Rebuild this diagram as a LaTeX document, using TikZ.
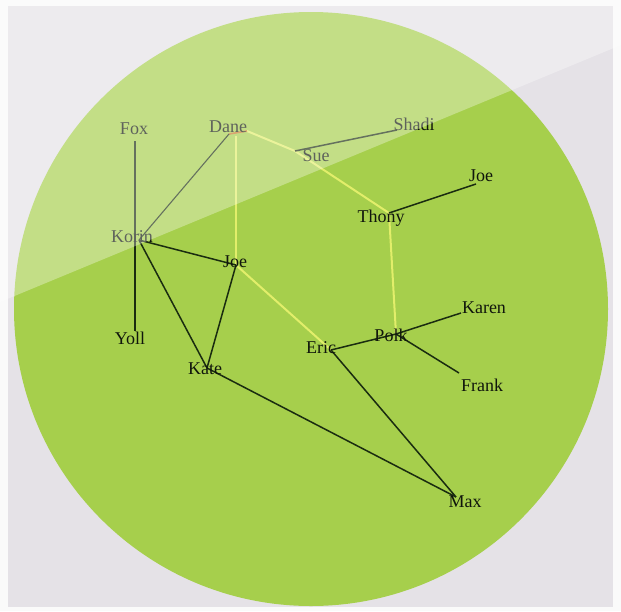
\documentclass[tikz,border=0pt]{standalone}
\usepackage{fontspec}
\setmainfont{Liberation Serif}
\definecolor{bgwhite}{HTML}{FAFAFA}
\definecolor{bggray}{HTML}{E5E2E7}
\definecolor{disc}{HTML}{A6CF4C}
\definecolor{darkedge}{HTML}{1A2C10}
\definecolor{yedge}{HTML}{E2EE6A}
\definecolor{labelcol}{HTML}{10160C}
\definecolor{tipcol}{HTML}{C8782A}
\tikzset{
  lbl/.style={font=\fontsize{18}{20}\selectfont, text=labelcol, inner sep=0pt, anchor=base},
  darkline/.style={draw=darkedge, line width=1.5pt},
  yline/.style={draw=yedge, line width=2pt},
}
\begin{document}
\begin{tikzpicture}[x=1pt,y=-1pt]
\useasboundingbox (0,0) rectangle (621,611);
% background
\fill[bgwhite] (0,0) rectangle (621,611);
\fill[bggray] (8,6) rectangle (613,607);
\fill[disc] (311,309) circle[radius=297];
% hubs
\coordinate (hFox) at (135,141);
\coordinate (hYoll) at (135,331);
\coordinate (hDane) at (229,134);
\coordinate (hDaneY) at (236,136);
\coordinate (hDaneR) at (247,131);
\coordinate (hKorin) at (139,240);
\coordinate (hJoeM) at (236,265);
\coordinate (hKate) at (207,368);
\coordinate (hMax) at (456,497);
\coordinate (hEric) at (331,350);
\coordinate (hPolk) at (396,334);
\coordinate (hKaren) at (461,313);
\coordinate (hFrank) at (459,373);
\coordinate (hThony) at (389,213);
\coordinate (hJoeT) at (476,184);
\coordinate (hSue) at (295,151);
\coordinate (hShadi) at (397,130);
% yellow edges
\draw[yline] (hDaneR) -- (hSue);
\draw[yline] (hDaneY) -- (hJoeM);
\draw[yline] (hSue) -- (hThony);
\draw[yline] (hThony) -- (hPolk);
\draw[yline] (hJoeM) -- (hEric);
% orange tint at Dane
\draw[tipcol, line width=1.6pt] (hDane) -- (hDaneR);
% dark edges
\draw[darkline] (hFox) -- (hYoll);
\draw[darkline, line width=1.1pt] (hDane) -- (hKorin);
\draw[darkline] (hKorin) -- (hJoeM);
\draw[darkline] (hKorin) -- (hKate);
\draw[darkline] (hJoeM) -- (hKate);
\draw[darkline] (hKate) -- (hMax);
\draw[darkline] (hEric) -- (hMax);
\draw[darkline] (hEric) -- (hPolk);
\draw[darkline] (hPolk) -- (hKaren);
\draw[darkline] (hPolk) -- (hFrank);
\draw[darkline] (hThony) -- (hJoeT);
\draw[darkline] (hSue) -- (hShadi);
% labels
\node[lbl] (Fox) at (134,134) {Fox};
\node[lbl] (Dane) at (228,132) {Dane};
\node[lbl] (Shadi) at (414,130) {Shadi};
\node[lbl] (Sue) at (316,161) {Sue};
\node[lbl] (JoeT) at (481,181) {Joe};
\node[lbl] (Thony) at (381,222) {Thony};
\node[lbl] (Korin) at (132,242) {Korin};
\node[lbl] (JoeM) at (235,267) {Joe};
\node[lbl] (Yoll) at (130,344) {Yoll};
\node[lbl] (Kate) at (205,374) {Kate};
\node[lbl] (Eric) at (321,353) {Eric};
\node[lbl] (Polk) at (391,341) {Polk};
\node[lbl] (Karen) at (484,313) {Karen};
\node[lbl] (Frank) at (482,391) {Frank};
\node[lbl] (Max) at (465,507) {Max};
% translucent light band
\fill[white, opacity=0.33] (0,0) -- (621,0) -- (621,45) -- (0,302) -- cycle;
\end{tikzpicture}
\end{document}
